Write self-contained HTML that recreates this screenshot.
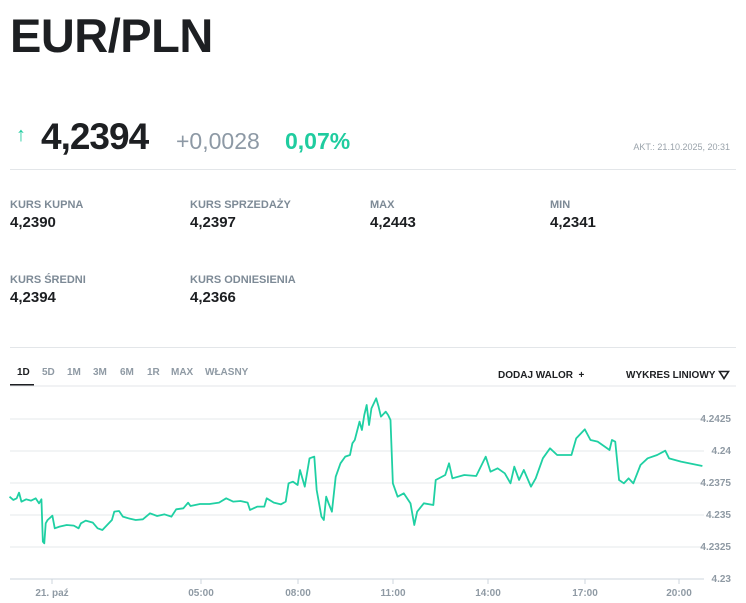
<!DOCTYPE html>
<html><head><meta charset="utf-8"><style>
*{margin:0;padding:0;box-sizing:border-box}
body{width:746px;height:603px;background:#fff;font-family:"Liberation Sans",sans-serif;position:relative;overflow:hidden;color:#1d1f22}
.a{position:absolute;white-space:nowrap}
.lbl{font-size:11px;font-weight:bold;color:#7d8a96}
.val{font-size:15px;font-weight:bold;color:#1d1f22}
.tab{font-size:10px;font-weight:bold;color:#8f9aa4;top:367px}
.hr{position:absolute;height:1px;background:#e3e6e9}
</style></head><body>
<div class="a" style="left:10px;top:8px;font-size:47px;font-weight:bold;letter-spacing:-0.5px">EUR/PLN</div>
<div class="a" style="left:16px;top:124px;font-size:20px;color:#1fcc9f;font-weight:bold">↑</div>
<div class="a" style="left:41px;top:116px;font-size:37px;font-weight:bold;letter-spacing:-1px">4,2394</div>
<div class="a" style="left:176px;top:128px;font-size:23px;color:#8d99a5">+0,0028</div>
<div class="a" style="left:285px;top:128px;font-size:23px;color:#1fcc9f;font-weight:bold">0,07%</div>
<div class="a" style="right:16px;top:142px;font-size:9px;color:#9aa3ab">AKT.: 21.10.2025, 20:31</div>
<div class="hr" style="left:10px;top:169px;width:726px"></div>
<div class="a lbl" style="left:10px;top:199px">KURS KUPNA</div><div class="a val" style="left:10px;top:214px">4,2390</div>
<div class="a lbl" style="left:190px;top:199px">KURS SPRZEDAŻY</div><div class="a val" style="left:190px;top:214px">4,2397</div>
<div class="a lbl" style="left:370px;top:199px">MAX</div><div class="a val" style="left:370px;top:214px">4,2443</div>
<div class="a lbl" style="left:550px;top:199px">MIN</div><div class="a val" style="left:550px;top:214px">4,2341</div>
<div class="a lbl" style="left:10px;top:274px">KURS ŚREDNI</div><div class="a val" style="left:10px;top:289px">4,2394</div>
<div class="a lbl" style="left:190px;top:274px">KURS ODNIESIENIA</div><div class="a val" style="left:190px;top:289px">4,2366</div>
<div class="hr" style="left:10px;top:347px;width:726px"></div>
<div class="a tab" style="left:17px;color:#1d1f22">1D</div>
<div class="a tab" style="left:42px">5D</div>
<div class="a tab" style="left:67px">1M</div>
<div class="a tab" style="left:93px">3M</div>
<div class="a tab" style="left:120px">6M</div>
<div class="a tab" style="left:147px">1R</div>
<div class="a tab" style="left:171px">MAX</div>
<div class="a tab" style="left:205px">WŁASNY</div>
<div class="a" style="left:10px;top:384px;width:24px;height:2px;background:#1d1f22"></div>
<div class="a" style="left:498px;top:370px;font-size:10px;font-weight:bold">DODAJ WALOR &nbsp;+</div>
<div class="a" style="left:626px;top:370px;font-size:10px;font-weight:bold">WYKRES LINIOWY</div>
<svg class="a" style="left:718px;top:370px" width="12" height="10"><path d="M1.5 1.5H10.5L6 8.5Z" fill="none" stroke="#1d1f22" stroke-width="1.6"/></svg>
<svg class="a" style="left:0;top:0" width="746" height="603">
<line x1="10" y1="386" x2="736" y2="386" stroke="#e3e6e9"/>
<g stroke="#e6e8eb" stroke-width="1">
<line x1="10" y1="419" x2="704" y2="419"/><line x1="10" y1="451" x2="704" y2="451"/>
<line x1="10" y1="483" x2="704" y2="483"/><line x1="10" y1="515" x2="704" y2="515"/>
<line x1="10" y1="547" x2="704" y2="547"/></g>
<line x1="10" y1="579" x2="704" y2="579" stroke="#ccd4dc"/>
<g stroke="#ccd4dc"><line x1="52" y1="579" x2="52" y2="584"/><line x1="201" y1="579" x2="201" y2="584"/><line x1="298" y1="579" x2="298" y2="584"/><line x1="393" y1="579" x2="393" y2="584"/><line x1="488" y1="579" x2="488" y2="584"/><line x1="585" y1="579" x2="585" y2="584"/><line x1="679" y1="579" x2="679" y2="584"/></g>
<g font-size="10" font-weight="bold" fill="#8f9aa4" text-anchor="end" font-family="Liberation Sans,sans-serif">
<text x="731" y="422">4.2425</text><text x="731" y="454">4.24</text><text x="731" y="486">4.2375</text><text x="731" y="518">4.235</text><text x="731" y="550">4.2325</text><text x="731" y="582">4.23</text></g>
<g font-size="10" font-weight="bold" fill="#8f9aa4" text-anchor="middle" font-family="Liberation Sans,sans-serif">
<text x="52" y="596">21. paź</text><text x="201" y="596">05:00</text><text x="298" y="596">08:00</text><text x="393" y="596">11:00</text><text x="488" y="596">14:00</text><text x="585" y="596">17:00</text><text x="679" y="596">20:00</text></g>
<g transform="translate(0,350) scale(0.4762,0.3333)">
<polyline fill="none" stroke="#1fd0a3" stroke-width="1.8" vector-effect="non-scaling-stroke" stroke-linejoin="round" points="20,440 28,450 35,445 40,428 45,455 55,448 65,452 75,445 82,460 87,448 90,575 93,580 96,520 100,510 110,497 115,535 125,530 140,525 155,527 165,535 170,520 180,512 195,518 205,535 215,540 225,525 235,510 240,485 250,483 258,500 270,505 285,510 300,508 315,490 330,498 345,493 360,500 370,478 385,475 395,458 400,468 420,462 440,462 460,458 475,445 490,455 505,453 520,458 525,480 540,470 555,470 560,445 575,458 590,463 600,455 606,400 615,395 625,405 630,360 640,410 650,325 660,320 665,420 675,500 680,510 685,440 690,460 697,485 705,380 715,340 725,320 735,315 740,280 745,270 755,215 760,240 765,195 770,165 775,225 780,175 790,145 795,170 800,200 810,185 815,195 820,210 825,400 835,440 848,430 862,460 870,525 876,485 890,460 910,465 915,390 935,375 943,340 950,385 975,375 1000,378 1020,320 1030,365 1045,355 1060,370 1072,400 1080,350 1090,390 1100,360 1115,410 1125,385 1140,325 1155,295 1170,315 1200,315 1210,265 1228,238 1240,270 1255,275 1270,290 1280,300 1285,270 1292,275 1300,390 1310,400 1320,385 1330,400 1345,345 1360,325 1380,315 1397,302 1405,325 1430,335 1475,348"/>
</g>
</svg>
</body></html>
